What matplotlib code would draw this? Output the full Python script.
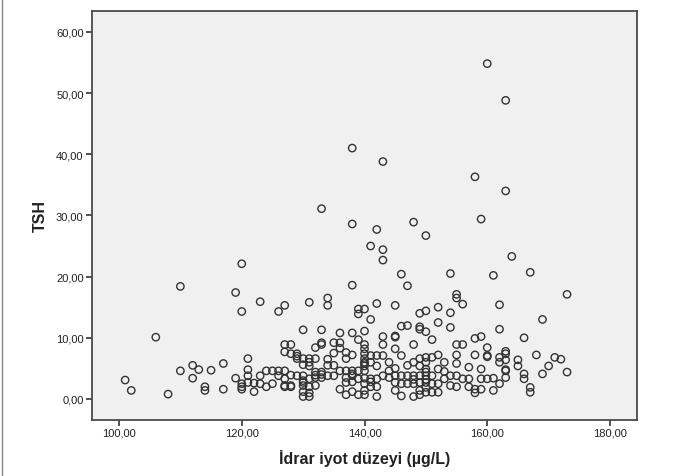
import matplotlib.pyplot as plt
from matplotlib.ticker import FuncFormatter
from matplotlib.lines import Line2D

# Idrar iyot duzeyi (x) ve TSH (y)
iyot = [101, 102, 106, 108, 110, 110, 112, 112, 113, 114, 114, 115, 117, 117, 119, 119,
        120, 120, 120, 120, 120, 121, 121, 121, 121, 122, 122, 123, 123, 123, 124, 124, 125, 125, 126, 126, 126,
        127, 127, 127, 127, 127, 127, 127, 128, 128, 128, 128, 128, 129, 129, 129, 129,
        130, 130, 130, 130, 130, 130, 130, 130, 130, 131, 131, 131, 131, 131, 131, 131, 131,
        132, 132, 132, 132, 132, 132, 133, 133, 133, 133, 133, 133, 133,
        134, 134, 134, 134, 134, 135, 135, 135, 135, 136, 136, 136, 136, 136,
        137, 137, 137, 137, 137, 137, 138, 138, 138, 138, 138, 138, 138, 138, 138, 138,
        139, 139, 139, 139, 139, 139, 140, 140, 140, 140, 140, 140, 140, 140, 140, 140, 140, 140, 140, 140,
        141, 141, 141, 141, 141, 141, 141, 142, 142, 142, 142, 142, 142, 142,
        143, 143, 143, 143, 143, 143, 143, 144, 144, 144, 145, 145, 145, 145, 145, 145, 145, 145,
        146, 146, 146, 146, 146, 146, 147, 147, 147, 147, 147, 148, 148, 148, 148, 148, 148, 148,
        149, 149, 149, 149, 149, 149, 149, 149, 149, 150, 150, 150, 150, 150, 150, 150, 150, 150, 150, 150, 150,
        151, 151, 151, 151, 151, 152, 152, 152, 152, 152, 152, 153, 153, 153,
        154, 154, 154, 154, 154, 155, 155, 155, 155, 155, 155, 155, 156, 156, 156, 157, 157, 157,
        158, 158, 158, 158, 158, 159, 159, 159, 159, 159, 160, 160, 160, 160, 160, 161, 161, 161,
        162, 162, 162, 162, 162, 163, 163, 163, 163, 163, 163, 163, 163, 164, 165, 165,
        166, 166, 166, 167, 167, 167, 168, 169, 169, 170, 171, 172, 173, 173]

tsh = [3.1, 1.4, 10.1, 0.8, 18.4, 4.6, 5.5, 3.4, 4.8, 2.0, 1.4, 4.7, 5.8, 1.6, 17.4, 3.4,
       22.1, 14.3, 2.5, 1.6, 2.0, 6.6, 4.8, 3.8, 2.7, 1.2, 2.6, 15.9, 3.8, 2.5, 4.6, 2.0, 4.6, 2.5, 14.3, 4.6, 3.8,
       15.3, 8.9, 7.7, 4.6, 3.3, 2.0, 2.2, 8.9, 7.4, 2.2, 2.0, 3.9, 7.4, 6.6, 3.8, 7.0,
       11.3, 6.6, 3.8, 2.7, 1.2, 0.4, 5.6, 2.2, 3.0, 15.8, 6.6, 5.4, 3.3, 2.0, 0.4, 6.0, 1.0,
       8.4, 6.6, 4.4, 3.5, 2.2, 3.9, 31.1, 11.3, 9.2, 8.9, 4.4, 3.5, 4.0,
       16.5, 15.3, 6.5, 5.5, 3.8, 9.2, 7.5, 5.5, 3.8, 10.8, 9.2, 8.3, 4.6, 1.6,
       7.6, 6.6, 4.6, 3.5, 2.7, 0.7, 41.0, 28.6, 18.6, 10.8, 7.2, 4.6, 3.8, 2.8, 1.2, 4.1,
       14.7, 13.9, 9.7, 4.6, 3.3, 0.7, 14.7, 11.1, 8.9, 8.2, 7.4, 6.6, 6.0, 5.4, 4.6, 3.4, 1.4, 0.7, 2.5, 5.8,
       25.0, 13.0, 7.1, 6.0, 3.3, 2.0, 2.8, 27.7, 15.6, 7.1, 5.4, 3.3, 2.0, 0.4,
       38.8, 24.4, 22.7, 10.2, 8.9, 7.1, 3.8, 6.0, 4.6, 3.5, 15.3, 10.1, 10.3, 8.2, 5.0, 3.8, 2.7, 1.4,
       20.4, 11.9, 7.1, 3.8, 2.5, 0.5, 18.5, 12.0, 5.5, 3.8, 2.5, 28.9, 8.9, 6.0, 3.8, 2.5, 0.4, 3.2,
       14.0, 11.8, 11.4, 6.6, 5.4, 3.8, 2.7, 1.4, 0.7, 26.7, 14.4, 11.0, 6.8, 6.0, 4.9, 3.8, 2.7, 1.9, 1.1, 4.4, 3.2,
       9.7, 6.8, 3.8, 1.1, 2.5, 15.0, 12.5, 7.2, 4.9, 2.5, 1.1, 6.0, 3.3, 4.5,
       20.5, 14.1, 11.7, 3.8, 2.2, 17.1, 16.5, 8.9, 7.2, 5.8, 3.8, 2.0, 15.5, 8.9, 3.3, 5.2, 3.3, 2.0,
       36.3, 9.9, 7.2, 1.6, 1.0, 29.4, 10.2, 4.9, 3.3, 1.6, 54.8, 8.4, 7.1, 3.3, 6.9, 20.2, 3.4, 1.4,
       15.4, 11.4, 6.8, 6.0, 2.5, 48.8, 34.0, 7.8, 7.4, 6.4, 4.8, 4.6, 3.5, 23.3, 6.4, 5.4,
       10.0, 4.1, 3.3, 20.7, 1.9, 1.1, 7.2, 13.0, 4.1, 5.4, 6.8, 6.5, 17.1, 4.4]

assert len(iyot) == len(tsh), (len(iyot), len(tsh))

x_ticks = [100, 120, 140, 160, 180]
y_ticks = [0, 10, 20, 30, 40, 50, 60]

plt.rcParams['font.family'] = ['Liberation Sans', 'DejaVu Sans']

fig = plt.figure(figsize=(6.76, 4.77), dpi=100)
ax = fig.add_axes([92 / 676, 1 - 420.5 / 477, (637 - 92) / 676, (420.5 - 12) / 477])
ax.set_facecolor('#f0f0f0')

ax.scatter(iyot, tsh, s=28, facecolors='none', edgecolors='#333333', linewidths=1.0)

ax.set_xlim(95.6, 184.4)
ax.set_ylim(-3.35, 63.4)
ax.set_xticks(x_ticks)
ax.set_yticks(y_ticks)
comma = FuncFormatter(lambda v, p: f'{v:.2f}'.replace('.', ','))
ax.xaxis.set_major_formatter(comma)
ax.yaxis.set_major_formatter(comma)
ax.tick_params(direction='out', length=4, width=1.2, color='#333333',
               labelsize=8, labelcolor='#222222', pad=2)

for s in ax.spines.values():
    s.set_color('#4a4a4a')
    s.set_linewidth(1.3)

ax.set_xlabel('İdrar iyot düzeyi (µg/L)', fontsize=11.5, fontweight='bold', color='#222222', labelpad=8)
ax.set_ylabel('TSH', fontsize=11.5, fontweight='bold', color='#222222', labelpad=6)

# ince gri kenar cizgisi (sol)
fig.add_artist(Line2D([0.003, 0.003], [0, 1], transform=fig.transFigure, color='#888888', lw=1))

fig.savefig('out.png', dpi=100)
